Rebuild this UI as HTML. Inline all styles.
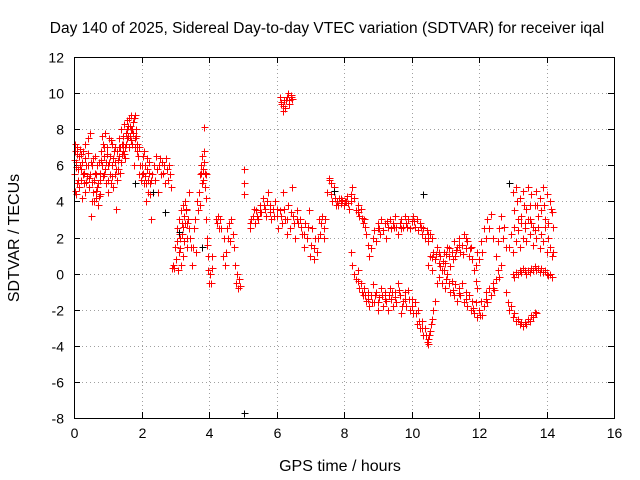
<!DOCTYPE html>
<html><head><meta charset="utf-8"><style>
body{margin:0;background:#fff}
svg{display:block;font-family:"Liberation Sans",sans-serif}
</style></head><body>
<svg id="c" width="640" height="480" viewBox="0 0 640 480">
<text x="327" y="33" text-anchor="middle" font-size="15.5">Day 140 of 2025, Sidereal Day-to-day VTEC variation (SDTVAR) for receiver iqal</text>
<text x="340" y="471" text-anchor="middle" font-size="16">GPS time / hours</text>
<text x="19" y="238" text-anchor="middle" font-size="16" transform="rotate(-90 19 238)">SDTVAR / TECUs</text>
<g id="grid"></g>
<g id="ticks"></g>
<path id="pts" fill="none" stroke="#ff0000" stroke-width="1"></path>
<path id="bpts" fill="none" stroke="#000" stroke-width="1"></path>
<rect x="74.5" y="57.5" width="540" height="361" fill="none" stroke="#000"></rect>
</svg>
<script>
const xTicks=[0,2,4,6,8,10,12,14,16];
const yTicks=[-8,-6,-4,-2,0,2,4,6,8,10,12];
const segA=[[0,5.5],[.02,6.8],[.04,4.6],[.06,6.2],[.08,5],[.1,7],[.12,5.8],[.14,6.5],[.16,4.8],[.18,6],[.2,5.2],[.22,6.6],[.24,4.2],[.26,5.5],[.28,6.8],[.3,5],[.32,7.2],[.34,4.5],[.36,6],[.38,5.4],[.4,7.5],[.42,6],[.44,4.8],[.46,7.8],[.48,5.5],[.5,3.2],[.52,4],[.54,6],[.56,4.5],[.58,5.2],[.6,4],[.62,6.5],[.64,4.2],[.66,5.5],[.68,4.8],[.7,3.8],[.72,5],[.74,6.2],[.76,4.4],[.78,5.6],[.8,6.8],[.82,7.6],[.84,6],[.86,7.2],[.88,5.5],[.9,6.5],[.92,7.8],[.94,6.2],[.96,5],[.98,7],[1,6],[1.02,4.5],[1.04,7.5],[1.06,5.5],[1.08,6.5],[1.1,5],[1.12,7.2],[1.14,6],[1.16,4.8],[1.18,6.8],[1.2,5.5],[1.22,6.2],[1.24,3.6],[1.26,5.2],[1.28,6.8],[1.3,5.8],[1.32,7.5],[1.34,6.5],[1.36,7],[1.38,6.2],[1.4,8],[1.42,7.2],[1.44,6.8],[1.46,7.6],[1.48,8.3],[1.5,7],[1.52,6.4],[1.54,7.8],[1.56,8.5],[1.58,7.5],[1.6,8.2],[1.62,7],[1.64,8.6],[1.66,7.6],[1.68,8],[1.7,8.8],[1.72,7.2],[1.74,8.4],[1.76,7.8],[1.78,6],[1.8,8.8],[1.82,7.5],[1.84,8],[1.86,6.8],[1.88,7.2],[1.9,6.5],[1.92,5.5],[1.94,7],[1.96,6],[1.98,5.2],[.01,6.3],[.05,5.9],[.09,6.6],[.13,5.2],[.17,6.9],[.21,5.8],[.25,6.2],[.29,5.6],[.33,6.4],[.37,5.1],[.41,6.7],[.45,5.3],[.03,7.2],[.07,4.4]];
const segA2=[[.49,6.2],[.53,5.1],[.57,6.4],[.61,5.6],[.65,4.6],[.69,6],[.73,4.3],[.77,5.2],[.81,6.3],[.85,5.4],[.89,7],[.93,5.8],[.97,6.6],[1.01,5.2],[1.05,6.2],[1.09,7.4],[1.13,5.4],[1.17,6.4],[1.21,7],[1.25,5.8],[1.29,6.3],[1.33,7],[1.37,5.6],[1.41,6.6],[1.45,7.2],[1.49,6.6],[1.53,7.2],[1.57,8],[1.61,7.6],[1.65,8.2],[1.69,7.4],[1.73,8],[1.77,8.6],[1.81,7],[1.85,7.6]];
const segB=[[2,5.5],[2.03,6.5],[2.06,5],[2.09,6],[2.12,4],[2.15,5.8],[2.18,4.5],[2.21,6.2],[2.24,5],[2.27,3],[2.3,5.5],[2.33,4.5],[2.36,6],[2.39,5.2],[2.42,6.5],[2.45,5.8],[2.48,4.5],[2.51,6],[2.54,6.4],[2.57,5.5],[2.6,6.2],[2.63,5.6],[2.66,6],[2.69,5],[2.72,6.4],[2.75,5.8],[2.78,5.2],[2.81,6],[2.84,5.5],[2.87,4.8],[2.01,6],[2.04,5.6],[2.07,6.8],[2.1,5.4],[2.13,5],[2.16,6.4],[2.19,5.2],[2.22,5.6],[2.25,4.4],[2.28,5.2]];
const segC=[[2.9,.3],[2.93,.5],[2.96,.3],[3,1.5],[3.03,.8],[3.06,2.5],[3.08,.2],[3.1,1.2],[3.12,3],[3.14,2],[3.16,.5],[3.18,3.5],[3.2,2.2],[3.22,3.8],[3.24,1],[3.26,3.2],[3.28,4],[3.3,2.8],[3.32,3.5],[3.34,2],[3.36,1.5],[3.38,3],[3.4,2.5],[3.42,4.5],[3.45,2],[3.48,1.5],[3.05,1.8],[3.11,2.2],[3.15,1.4],[3.19,2.8],[3.23,2.6],[3.27,1.8],[3.31,3.6],[3.35,2.8]];
const segD=[[3.5,.5],[3.53,1.5],[3.56,2.5],[3.59,3],[3.62,1.2],[3.65,4],[3.68,3.5],[3.7,4.5],[3.72,5.5],[3.74,3.8],[3.76,6],[3.78,5],[3.8,6.5],[3.82,5.2],[3.84,8.1],[3.86,6.2],[3.88,4.8],[3.9,5.5],[3.92,3],[3.94,2],[3.96,1],[3.98,.2],[4,-.5],[4.02,0],[4.05,-.5],[4.08,1],[4.1,.3],[3.77,5.6],[3.81,5.8],[3.85,6.8],[3.87,5.6],[3.91,4.2],[3.95,1.6]];
const segF=[[4.2,3],[4.23,2.8],[4.26,3.2],[4.3,2.5],[4.33,3],[4.36,2.5],[4.4,1],[4.43,2],[4.46,.5],[4.5,1.2],[4.53,2.5],[4.56,2],[4.6,2.8],[4.63,1.8],[4.66,3],[4.7,2.2],[4.73,1.5],[4.76,.5],[4.8,-.5],[4.83,0],[4.86,-.8],[4.9,-.3],[4.93,-.7],[5.05,5.8],[5.05,5],[5.05,4.4],[5.05,-7.7]];
const segG=[[5.2,2.5],[5.25,3],[5.3,3.2],[5.35,2.8],[5.4,3.5],[5.45,3],[5.5,3.8],[5.55,3.4],[5.6,4.2],[5.65,3.6],[5.7,3.2],[5.75,4.5],[5.8,3.8],[5.85,3],[5.9,3.6],[5.95,4],[6,3.2],[6.05,2.5],[6.1,3.5],[6.15,2.8],[6.2,4.5],[6.25,3],[6.3,2.2],[6.35,3.8],[6.4,2.5],[6.45,4.8],[6.5,3.2],[6.55,2],[6.6,3.5],[6.65,2.8],[6.7,3],[6.75,2.2],[6.8,1.5],[6.85,2.8],[6.9,2],[6.95,3.5],[7,1],[7.05,2.5],[7.1,.8],[7.15,2],[7.2,1.2],[7.25,3],[7.3,2.2],[7.35,3.2],[7.4,2.5],[7.45,3]];
const segG2=[[5.22,2.8],[5.32,3.6],[5.42,3.2],[5.52,3.4],[5.62,3.8],[5.72,4],[5.82,3.4],[5.92,3.2],[6.02,3.6],[6.12,3.2],[6.22,3.6],[6.32,3],[6.42,3.4],[6.52,2.8],[6.62,3],[6.72,2.6],[6.82,2.2],[6.92,2.6],[7.02,1.6],[7.12,1.4],[7.22,2],[7.32,2.8],[7.42,2]];
const segH=[[6.1,9.8],[6.14,9.4],[6.18,9],[6.22,9.6],[6.26,9.2],[6.3,9.8],[6.34,10],[6.38,9.6],[6.42,9.8],[6.46,9.7],[6.12,9.5],[6.2,9.3],[6.28,9.6],[6.36,9.4],[6.44,9.9]];
const segI=[[7.5,4.5],[7.55,5.2],[7.6,5],[7.65,4],[7.7,4.8],[7.75,3.8],[7.8,4],[7.85,4.2],[7.9,3.9],[7.95,4.1],[8,3.8],[8.05,4],[8.1,4.3],[8.15,3.6],[8.2,4],[8.25,4.8],[8.3,4.2],[8.35,3.5],[8.4,3.8],[8.45,3.2],[8.5,3.6],[8.55,2.8],[8.6,3],[8.65,2.2],[8.7,1.6],[8.75,1],[8.8,1.4],[8.85,2],[8.9,2.4],[8.95,1.8],[9,2.5],[7.57,5.3],[7.62,4.4],[7.72,4.2],[7.82,3.8],[7.92,4.2],[8.02,4],[8.12,3.9],[8.22,4.4],[8.42,3.4],[8.52,3.1],[8.62,2.6]];
const segK=[[8.2,1.2],[8.25,.5],[8.3,0],[8.35,-.3],[8.4,.2],[8.45,-.8],[8.5,-.5],[8.55,-1.2],[8.6,-.8],[8.65,-1.5],[8.7,-1],[8.75,-1.8],[8.8,-1.2],[8.85,-.6],[8.9,-1.6],[8.95,-1],[9,-2],[9.05,-1.3],[9.1,-.8],[9.15,-1.8],[9.2,-1],[9.25,-1.5],[9.3,-2],[9.35,-.8],[9.4,-1.4],[9.45,-1.8],[9.5,-1],[9.55,-1.6],[9.6,-.5],[9.65,-1.2],[9.7,-2.2],[9.75,-1.5],[9.8,-1],[9.85,-1.8],[9.9,-.9],[9.95,-2],[10,-1.4],[10.05,-2.2],[10.1,-1.6],[10.15,-2.8],[10.2,-2],[10.25,-3],[10.3,-2.6],[10.35,-3.4],[10.4,-3],[10.45,-3.8],[10.5,-3.6],[10.55,-3.2],[10.6,-2.5],[10.65,-2],[10.7,-1.5],[10.75,-.5]];
const segK2=[[8.42,-.4],[8.52,-1],[8.62,-1.2],[8.72,-1.4],[8.82,-1.6],[8.92,-1.2],[9.02,-1.6],[9.12,-1.2],[9.22,-1.4],[9.32,-1.2],[9.42,-1],[9.52,-1.3],[9.62,-.9],[9.72,-1.8],[9.82,-1.4],[9.92,-1.4],[10.02,-1.8],[10.12,-2.2],[10.22,-2.6],[10.32,-3],[10.42,-3.4],[10.48,-3.9],[10.52,-3.4],[10.58,-2.8]];
const segL=[[9,2.8],[9.05,2.5],[9.1,3],[9.15,2.4],[9.2,2.8],[9.25,2],[9.3,2.6],[9.35,3],[9.4,2.5],[9.45,2.8],[9.5,3.2],[9.55,2.6],[9.6,2.2],[9.65,2.8],[9.7,3],[9.75,2.6],[9.8,3.2],[9.85,2.8],[9.9,3],[9.95,2.5],[10,2.9],[10.05,3.2],[10.1,2.6],[10.15,3],[10.2,2.4],[10.25,2.8],[10.3,2.2],[10.35,2.5],[10.4,2],[10.45,2.4],[10.5,1.8],[10.55,2.2],[10.6,2],[9.08,2.2],[9.28,2.9],[9.48,2.6],[9.68,2.5],[9.88,2.6],[10.08,2.9],[10.28,2.6],[10.48,2.2]];
const segM=[[10.5,.5],[10.55,1],[10.6,.2],[10.65,1.2],[10.7,.8],[10.75,1.5],[10.8,.6],[10.85,1],[10.9,.2],[10.95,1.2],[11,.6],[11.05,1.5],[11.1,1],[11.15,.4],[11.2,1.2],[11.25,1.8],[11.3,1],[11.35,1.5],[11.4,2],[11.45,1.2],[11.5,1.6],[11.55,2.2],[11.6,1.4],[11.65,1.8],[11.7,1],[11.75,1.5],[11.8,.8],[11.85,.2],[11.9,-.4],[11.95,-.8],[10.62,.9],[10.72,1.1],[10.82,1.2],[10.92,.7],[11.02,1.1],[11.12,1.4],[11.22,.8],[11.32,1.3],[11.42,1.6],[11.52,1.1],[11.62,2],[11.72,1.4]];
const segN=[[10.8,-.2],[10.85,.4],[10.9,-.5],[10.95,.2],[11,-.8],[11.05,0],[11.1,-.5],[11.15,-1],[11.2,-.4],[11.25,-1.2],[11.3,-.6],[11.35,-1.5],[11.4,-.8],[11.45,-1.2],[11.5,-.5],[11.55,-1.6],[11.6,-1],[11.65,-1.8],[11.7,-1.2],[11.75,-2],[11.8,-1.5],[11.85,-2.2],[11.9,-1.6],[11.95,-2.4],[12,-2],[12.05,-1.5],[12.1,-2.3],[12.15,-1.8],[12.2,-1],[12.25,-1.6],[12.3,-.8],[12.35,-1.2],[12.4,-.5],[12.45,-.9],[12.5,-.3],[12.55,.2],[12.6,-.2],[12.65,.5],[11.02,-.3],[11.22,-.9],[11.42,-1.1],[11.62,-1.4],[11.82,-1.9],[12.02,-2.3],[12.22,-1.4],[12.42,-.8]];
const segO=[[11.9,.5],[11.95,1.2],[12,.8],[12.05,1.8],[12.1,1.2],[12.15,2.5],[12.2,2],[12.25,3],[12.3,2.5],[12.35,3.3],[12.4,2],[12.5,1],[12.55,1.8],[12.6,2.5],[12.65,3.2],[12.7,2],[12.75,2.6],[12.8,1.5]];
const segP=[[12.8,-1],[12.85,-1.6],[12.9,-2],[12.95,-1.8],[13,-2.4],[13.05,-2.2],[13.1,-2.6],[13.15,-2.5],[13.2,-2.8],[13.25,-2.7],[13.3,-2.9],[13.35,-2.7],[13.4,-2.8],[13.45,-2.5],[13.5,-2.6],[13.55,-2.3],[13.6,-2.4],[13.65,-2.1],[13.7,-2.2]];
const segQ=[[13,0],[13.05,-.2],[13.1,.1],[13.15,0],[13.2,.2],[13.25,.1],[13.3,.3],[13.35,.2],[13.4,0],[13.45,.2],[13.5,.1],[13.55,.3],[13.6,.2],[13.65,.4],[13.7,.2],[13.75,.3],[13.8,.1],[13.85,.3],[13.9,.1],[13.95,.2],[14,0],[14.05,-.1],[14.1,0],[14.15,-.2]];
const segR=[[13,4.5],[13.05,3.5],[13.1,4.8],[13.15,3],[13.2,4.2],[13.25,3.2],[13.3,4.6],[13.35,2.8],[13.4,3.6],[13.45,4.8],[13.5,3],[13.55,4.4],[13.6,2.6],[13.65,3.8],[13.7,4.6],[13.75,3.2],[13.8,4.2],[13.85,3.5],[13.9,4.8],[13.95,3],[14,4.4],[14.05,2.8],[14.1,4],[14.15,3.4],[14.2,2.6],[13.12,4],[13.32,3.8],[13.52,3.8],[13.72,3.8],[13.92,3.8],[14.12,3.6]];
const segS=[[12.9,1.5],[12.95,2.2],[13,1.2],[13.05,2.6],[13.1,1.8],[13.15,2.4],[13.2,1.5],[13.25,2.8],[13.3,2],[13.35,2.5],[13.4,1.8],[13.45,3],[13.5,2.2],[13.55,2.8],[13.6,1.6],[13.65,2.4],[13.7,2],[13.75,2.6],[13.8,1.4],[13.85,2.2],[13.9,1.8],[13.95,2.6],[14,1.2],[14.05,2],[14.1,1.5],[14.15,1],[14.2,1.2]];
const blackPts=[[1.8,5],[2.35,4.5],[2.7,3.4],[3.1,2.3],[3.8,1.5],[5.05,-7.7],[7.7,4.6],[10.35,4.4],[12.9,5]];
const X0=74,X1=614,Y0=418,Y1=57,XMIN=0,XMAX=16,YMIN=-8,YMAX=12;
const sx=t=>X0+(t-XMIN)/(XMAX-XMIN)*(X1-X0);
const sy=v=>Y0-(v-YMIN)/(YMAX-YMIN)*(Y0-Y1);
const NS='http://www.w3.org/2000/svg';
const grid=document.getElementById('grid'),ticks=document.getElementById('ticks');
function mk(tag,attrs,parent){const e=document.createElementNS(NS,tag);for(const k in attrs)e.setAttribute(k,attrs[k]);parent.appendChild(e);return e;}
xTicks.forEach(t=>{const x=Math.round(sx(t))+.5;
 if(t>XMIN&&t<XMAX){const g=mk('line',{x1:x,x2:x,y1:Y1,y2:Y0,stroke:'#a0a0a0','stroke-dasharray':'1,3'},grid);
 
 }
 const tk=mk('path',{d:`M${x} ${Y0}v-6M${x} ${Y1}v6`,stroke:'#000'},ticks);
 
 
 const l=mk('text',{x:x,y:Y0+20,'text-anchor':'middle','font-size':'14'},ticks);l.textContent=t;
 
 });
yTicks.forEach(v=>{const y=Math.round(sy(v))+.5;
 if(v>YMIN&&v<YMAX){const g=mk('line',{x1:X0,x2:X1,y1:y,y2:y,stroke:'#a0a0a0','stroke-dasharray':'1,3'},grid);
 
 }
 const tk=mk('path',{d:`M${X0} ${y}h6M${X1} ${y}h-6`,stroke:'#000'},ticks);
 
 
 const l=mk('text',{x:X0-10,y:y+5,'text-anchor':'end','font-size':'14'},ticks);l.textContent=v;
 
 });
function plus(arr){return arr.map(p=>{const x=Math.round(sx(p[0]))+.5,y=Math.round(sy(p[1]))+.5;return `M${x-3} ${y}h7M${x} ${y-3}v7`;}).join('');}
document.getElementById('pts').setAttribute('d',[segA,segA2,segB,segC,segD,segF,segG,segG2,segH,segI,segK,segK2,segL,segM,segN,segO,segP,segQ,segR,segS].map(plus).join(''));
document.getElementById('bpts').setAttribute('d',plus(blackPts));
</script>
</body></html>
